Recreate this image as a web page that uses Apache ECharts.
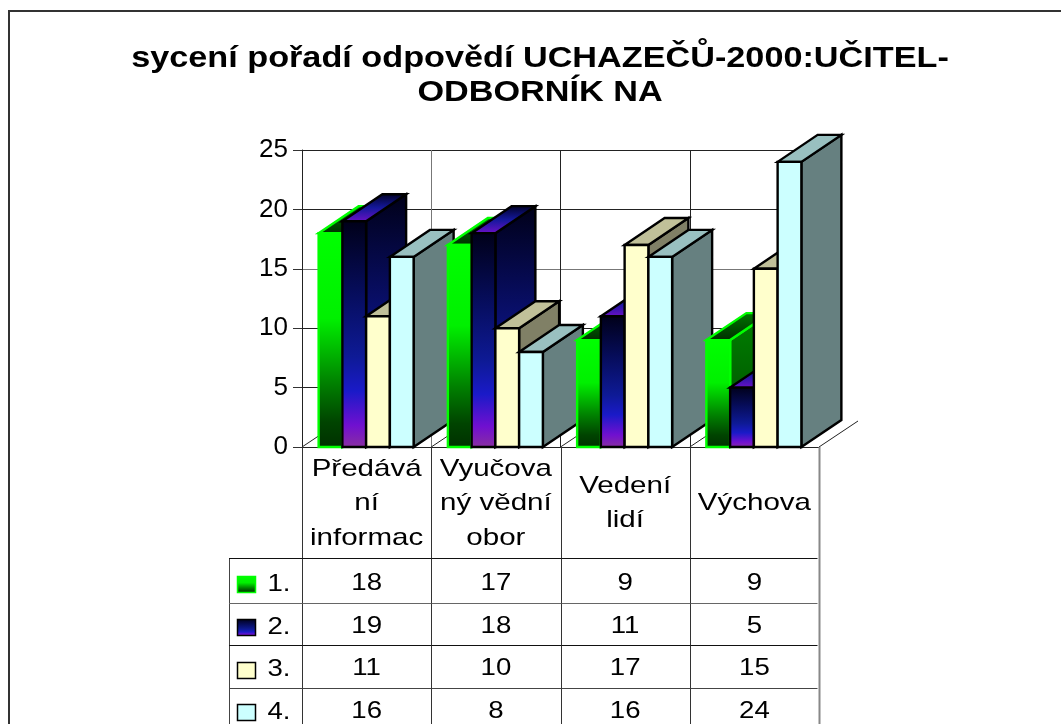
<!DOCTYPE html>
<html><head><meta charset="utf-8">
<style>html,body{margin:0;padding:0;background:#fff}#c{width:1061px;height:724px}</style>
<script src="https://cdn.jsdelivr.net/npm/echarts@6/dist/echarts.min.js"></script>
</head><body><div id="c"></div>
<script>
const titleLines = ['sycení pořadí odpovědí UCHAZEČŮ-2000:UČITEL-', 'ODBORNÍK NA'];
const categories = ['Předává\nní\ninformac', 'Vyučova\nný vědní\nobor', 'Vedení\nlidí', 'Výchova'];
const seriesNames = ['1.', '2.', '3.', '4.'];
const values1 = [18, 17, 9, 9];
const values2 = [19, 18, 11, 5];
const values3 = [11, 10, 17, 15];
const values4 = [16, 8, 16, 24];
const allValues = [values1, values2, values3, values4];
const yTicks = { min: 0, max: 25, step: 5 };

const FONT = '"Liberation Sans", Arial, sans-serif';
const G = echarts.graphic.LinearGradient;
const grad = (stops, x2, y2) => new G(0, 0, x2 || 0, y2 === undefined ? 1 : y2, stops.map(s => ({ offset: s[0], color: s[1] })));
const blueFront = [[0, '#000018'], [0.3, '#060c58'], [0.6, '#0e1a96'], [0.75, '#1a1ac8'], [0.9, '#7010d0'], [1, '#8a30a0']];
const skins = [
  { line: '#00ff00',
    front: () => grad([[0, '#00ff00'], [0.4, '#00f000'], [0.7, '#008000'], [0.88, '#004400'], [1, '#003000']]),
    side: () => grad([[0, '#008000'], [1, '#004800']]),
    top: () => grad([[0, '#007800'], [1, '#002c00']]) },
  { line: '#000000',
    front: () => grad(blueFront),
    side: () => grad([[0, '#000018'], [0.6, '#0c1488'], [1, '#101a90']]),
    top: () => grad([[0, '#000020'], [0.5, '#14189c'], [1, '#7010c8']]) },
  { line: '#000000', front: () => '#ffffcc', side: () => '#808066', top: () => '#c0c099' },
  { line: '#000000', front: () => '#ccffff', side: () => '#668080', top: () => '#99c0c0' }
];
const BAR_W = 23.75, GROUP_HALF = 48, DX = 40, DY = -27, LW = 2.4;

function barRenderer(s) {
  const sk = skins[s];
  return function (params, api) {
    const cat = api.value(0), val = api.value(1);
    const p = api.coord([cat, val]), b = api.coord([cat, 0]);
    const x0 = p[0] - GROUP_HALF + s * BAR_W, x1 = x0 + BAR_W, yT = p[1], yB = b[1];
    const z = cat * 100 + s * 10 + 10;
    const st = fill => ({ fill, stroke: sk.line, lineWidth: LW, lineJoin: 'miter' });
    return { type: 'group', children: [
      { type: 'polygon', z2: z, shape: { points: [[x1, yT], [x1 + DX, yT + DY], [x1 + DX, yB + DY], [x1, yB]] }, style: st(sk.side()) },
      { type: 'polygon', z2: z + 1, shape: { points: [[x0, yT], [x0 + DX, yT + DY], [x1 + DX, yT + DY], [x1, yT]] }, style: st(sk.top()) },
      { type: 'rect', z2: z + 2, shape: { x: x0, y: yT, width: BAR_W, height: yB - yT }, style: st(sk.front()) }
    ] };
  };
}

function floorRenderer(params, api) {
  const cat = api.value(0), c = api.coord([cat, 0]), band = api.size([1, 0])[0];
  const seg = x => ({ type: 'line', z2: 1, shape: { x1: x, y1: c[1], x2: x + 39, y2: c[1] - 26 }, style: { stroke: '#222', lineWidth: 1 } });
  const kids = [seg(c[0] - band / 2)];
  if (cat === categories.length - 1) kids.push(seg(c[0] + band / 2));
  return { type: 'group', children: kids };
}

const rowY = [558, 603, 645, 688];
const rowText = [583, 626, 668, 711];
const rowColor = ['#111', '#666', '#111', '#444'];
const swatchY = [576, 619, 662, 704];
const catLineH = 34.5;
const tableLeft = 229, tableTop = 447, tableBottom = 724;
const SX_CAT = 1.23, SX_VAL = 1.15;
function txt(str, x, y, size, sx) {
  return { type: 'text', x, y, scaleX: sx, z2: 5, style: { text: str, fontFamily: FONT, fontSize: size, lineHeight: catLineH, fill: '#000', align: 'center', verticalAlign: 'middle' } };
}
const vline = (x, y1, y2, color, w) => ({ type: 'line', z2: 3, shape: { x1: x, y1, x2: x, y2 }, style: { stroke: color, lineWidth: w || 1 } });
const hline = (x1, x2, y, color) => ({ type: 'line', z2: 3, shape: { x1, y1: y, x2, y2: y }, style: { stroke: color, lineWidth: 1 } });

function tableRenderer(params, api) {
  const cat = api.value(0), c = api.coord([cat, 0]), band = api.size([1, 0])[0];
  const left = Math.round(c[0] - band / 2) + 0.5, right = Math.round(c[0] + band / 2) + 0.5;
  const kids = [vline(left, tableTop, tableBottom, '#333')];
  kids.push(txt(categories[cat], c[0], (tableTop + rowY[0]) / 2 + 1, 24, SX_CAT));
  allValues.forEach((vals, r) => {
    kids.push(txt(String(vals[cat]), c[0], rowText[r], 24, SX_VAL));
    kids.push(hline(left, right - (cat === categories.length - 1 ? 2 : 0), rowY[r] + 0.5, rowColor[r]));
  });
  if (cat === categories.length - 1) kids.push(vline(right, tableTop, tableBottom, '#888', 2));
  if (cat === 0) {
    kids.push(vline(tableLeft + 0.5, rowY[0], tableBottom, '#444'));
    rowY.forEach((y, r) => {
      kids.push(hline(tableLeft, left, y + 0.5, rowColor[r]));
      const sk = skins[r];
      kids.push({ type: 'rect', z2: 4, shape: { x: 237.5, y: swatchY[r] + 0.5, width: 18, height: 16 }, style: { fill: sk.front(), stroke: sk.line, lineWidth: 1.5 } });
      kids.push(txt(seriesNames[r], 279, rowText[r] + 1, 24, SX_VAL));
    });
  }
  return { type: 'group', children: kids };
}

const chart = echarts.init(document.getElementById('c'), null, { renderer: 'canvas' });
const catData = categories.map((_, i) => [i, 0]);
chart.setOption({
  animation: false,
  backgroundColor: '#ffffff',
  graphic: [
    { type: 'line', shape: { x1: 9, y1: 10, x2: 9, y2: 724 }, style: { stroke: '#333', lineWidth: 2 } },
    { type: 'line', shape: { x1: 8, y1: 11, x2: 1061, y2: 11 }, style: { stroke: '#333', lineWidth: 2 } },
    { type: 'text', x: 540, y: 59, scaleX: 1.18, style: { text: titleLines[0], fontFamily: FONT, fontWeight: 'bold', fontSize: 29, fill: '#000', align: 'center', verticalAlign: 'middle' } },
    { type: 'text', x: 540, y: 93, scaleX: 1.18, style: { text: titleLines[1], fontFamily: FONT, fontWeight: 'bold', fontSize: 29, fill: '#000', align: 'center', verticalAlign: 'middle' } }
  ],
  grid: { left: 302, top: 150, width: 517, height: 297 },
  xAxis: {
    type: 'category', data: categories,
    axisLabel: { show: false }, axisTick: { show: false },
    axisLine: { show: true, lineStyle: { color: '#222', width: 1 } },
    splitLine: { show: true, interval: 0, showMaxLine: false, lineStyle: { color: ['#222', '#777', '#222', '#222'], width: 1 } }
  },
  yAxis: {
    type: 'value', min: yTicks.min, max: yTicks.max, interval: yTicks.step,
    axisLine: { show: true, lineStyle: { color: '#222', width: 1 } },
    axisTick: { show: true, length: 9, lineStyle: { color: '#333' } },
    axisLabel: { fontFamily: FONT, fontSize: 26, color: '#000', margin: 14 },
    splitLine: { show: true, lineStyle: { color: ['#222', '#222', '#222', '#777', '#222', '#222'], width: 1 } }
  },
  series: [
    { type: 'custom', name: 'floor', silent: true, renderItem: floorRenderer, data: catData, encode: { x: 0, y: 1 }, z: 2 },
    { type: 'custom', name: 'table', silent: true, renderItem: tableRenderer, data: catData, encode: { x: 0, y: 1 }, z: 2 }
  ].concat(allValues.map((vals, s) => ({
    type: 'custom', name: seriesNames[s], renderItem: barRenderer(s), z: 2,
    data: vals.map((v, i) => [i, v]), encode: { x: 0, y: 1 }
  })))
});
</script></body></html>
